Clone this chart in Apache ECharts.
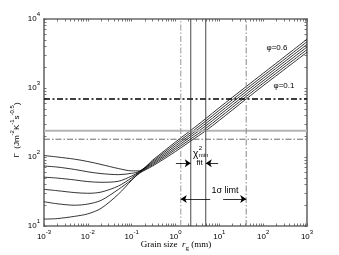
<!DOCTYPE html>
<html><head><meta charset="utf-8">
<script src="https://cdn.jsdelivr.net/npm/echarts@6/dist/echarts.min.js"></script>
<style>html,body{margin:0;padding:0;background:#fff}#c{width:339px;height:255px}</style>
</head><body><div id="c"></div>
<script>
// ---- data ----
const xGrid  = [0.001,0.002,0.005,0.01,0.02,0.05,0.1,0.15,0.3,1,2.2,4.9,10,41,100,1000];
const curve1 = [105,100,93,86,78,68,63,63,90,165,242,360,520,1050,1630,5100];
const curve2 = [74,71.5,66,61,57.5,55.5,58,62,86.5,155,225,332,478,966,1500,4675];
const curve3 = [51,49.5,46.5,44,43,44.5,53,61,83.2,145,210,306,439,889,1383,4285];
const curve4 = [34,32.5,30.5,29.8,31,38,50,60,80,136,196,282,403,818,1273,3928];
const curve5 = [22.5,21,20,20.8,23.5,34,47,59,77,128,182,260,370,753,1173,3600];
const curve6 = [12.6,12.8,13.8,15,18,29,46,58,74,120,170,240,340,693,1080,3300];
const curves = [curve1,curve2,curve3,curve4,curve5,curve6];

const hThick = 693, hGray = 240, hThin = 181;
const vSigmaLo = 1.32, vFitLo = 2.23, vFitHi = 4.9, vSigmaHi = 41;
const chiArrowY = 81, chiArrowLeft = [1.02, 2.23], chiArrowRight = [9.4, 4.9];
const sigArrowY = 24.6, sigArrowLeft = [6.2, 1.32], sigArrowRight = [12.2, 41];

const xMin = 0.001, xMax = 1000, yMin = 10, yMax = 10000;
const xTickValues = [0.001,0.01,0.1,1,10,100,1000];
const xTickExps = ['-3','-2','-1','0','1','2','3'];
const yTickValues = [10,100,1000,10000];
const yTickExps = ['1','2','3','4'];

function minorTicks(lo, hi){
  const out = [];
  for (let e = lo; e < hi; e++) for (let m = 1; m <= 9; m++) out.push(Number((m*Math.pow(10,e)).toPrecision(3)));
  out.push(Math.pow(10,hi));
  return out;
}
const xMinor = minorTicks(-3,3), yMinor = minorTicks(1,4);

const FONT = '"Liberation Sans", Arial, sans-serif';
const SERIF = '"Liberation Serif", "Times New Roman", serif';
const tickRich = {
  b:{fontSize:8, fontFamily:FONT, color:'#000', lineHeight:16, verticalAlign:'middle'},
  s:{fontSize:6, fontFamily:FONT, color:'#000', verticalAlign:'top'}
};
const AX = '#6a6a6a';
function mkAxis(pos, minV, maxV, ticks, labVals, exps, show){
  return {
    type:'log', logBase:10, min:minV, max:maxV, position:pos,
    axisLine:{show:true, onZero:false, lineStyle:{color:AX, width:1.6}},
    axisTick:{show:true, inside:true, length:2.5, customValues:ticks, lineStyle:{color:'#555', width:0.8}},
    minorTick:{show:false},
    splitLine:{show:false},
    axisLabel:{show:show, customValues:labVals, margin:(pos==='bottom'?3:4),
      formatter:function(v){ const i = labVals.findIndex(t=>Math.abs(Math.log10(t)-Math.log10(v))<1e-6); return '{b|10}{s|'+exps[i]+'}'; },
      rich:tickRich}
  };
}

const chart = echarts.init(document.getElementById('c'));
const series = [];
curves.forEach(c => series.push({
  type:'line', data:xGrid.map((x,i)=>[x,c[i]]), showSymbol:false, smooth:0.3,
  lineStyle:{color:'#000', width:0.8}, silent:true
}));
function hline(v, style){ series.push({type:'line', data:[[xMin,v],[xMax,v]], showSymbol:false, lineStyle:style, silent:true}); }
function vline(v, style){ series.push({type:'line', data:[[v,yMin],[v,yMax]], showSymbol:false, lineStyle:style, silent:true}); }
hline(hGray, {color:'#b4b4b4', width:2});
hline(hThin, {color:'#444', width:0.8, type:[6,2,1.5,2]});
hline(hThick, {color:'#000', width:1.4, type:[6,2.5,2,2.5]});
vline(vSigmaLo, {color:'#9a9a9a', width:1, type:[6,2,1.5,2]});
vline(vSigmaHi, {color:'#888', width:1, type:[6,2,1.5,2]});
vline(vFitLo, {color:'#333', width:0.9});
vline(vFitHi, {color:'#333', width:0.9});
function arrowLine(xs, y){
  return [{coord:[xs[0],y]},{coord:[xs[1],y]}];
}
series.push({type:'line', data:[], silent:true,
  markLine:{silent:true, animation:false, symbol:['none','arrow'], symbolSize:6,
    label:{show:false}, lineStyle:{color:'#000', width:0.8, type:'solid'},
    data:[arrowLine(chiArrowLeft,chiArrowY), arrowLine(chiArrowRight,chiArrowY),
          arrowLine(sigArrowLeft,sigArrowY), arrowLine(sigArrowRight,sigArrowY)]}
});

const option = {
  animation:false,
  grid:{left:44, top:19, right:32, bottom:29, containLabel:false},
  xAxis:[mkAxis('bottom', xMin, xMax, xMinor, xTickValues, xTickExps, true),
         mkAxis('top', xMin, xMax, xMinor, xTickValues, xTickExps, false)],
  yAxis:[mkAxis('left', yMin, yMax, yMinor, yTickValues, yTickExps, true),
         mkAxis('right', yMin, yMax, yMinor, yTickValues, yTickExps, false)],
  series: series,
  graphic:[
    {type:'text', x:17, y:130, rotation:Math.PI/2, silent:true,
     style:{text:'{a|Γ  (Jm}{s|-2}{a|K}{s|-1}{a|s}{s|-0.5}{a|)}', align:'center', verticalAlign:'middle',
       rich:{a:{fontSize:8, fontFamily:FONT, fill:'#000', lineHeight:16}, s:{fontSize:6, fontFamily:FONT, fill:'#000', verticalAlign:'top'}}}},
    {type:'text', x:176, y:245, silent:true,
     style:{text:'{a|Grain size  }{i|r}{g|g}{a| (mm)}', align:'center', verticalAlign:'middle',
       rich:{a:{fontSize:9, fontFamily:SERIF, fill:'#000', lineHeight:14}, i:{fontSize:9, fontFamily:SERIF, fontStyle:'italic', fill:'#000', lineHeight:14},
             g:{fontSize:7, fontFamily:SERIF, fill:'#000', verticalAlign:'bottom'}}}},
    {type:'text', x:277, y:48, silent:true, style:{text:'φ=0.6', font:'8px '+FONT, fill:'#000', align:'center', verticalAlign:'middle'}},
    {type:'text', x:284, y:86, silent:true, style:{text:'φ=0.1', font:'8px '+FONT, fill:'#000', align:'center', verticalAlign:'middle'}},
    {type:'text', x:195.5, y:154, silent:true, style:{text:'χ', font:'10px '+FONT, fill:'#000', align:'center', verticalAlign:'middle'}},
    {type:'text', x:200.5, y:148.5, silent:true, style:{text:'2', font:'6px '+FONT, fill:'#000', align:'center', verticalAlign:'middle'}},
    {type:'text', x:203.5, y:155, silent:true, style:{text:'min', font:'6px '+FONT, fill:'#000', align:'center', verticalAlign:'middle'}},
    {type:'text', x:199.5, y:163, silent:true, style:{text:'fit', font:'8px '+FONT, fill:'#000', align:'center', verticalAlign:'middle'}},
    {type:'text', x:225, y:190.5, silent:true, style:{text:'1σ limt', font:'9px '+FONT, fill:'#000', align:'center', verticalAlign:'middle'}}
  ]
};
chart.setOption(option);
</script></body></html>
